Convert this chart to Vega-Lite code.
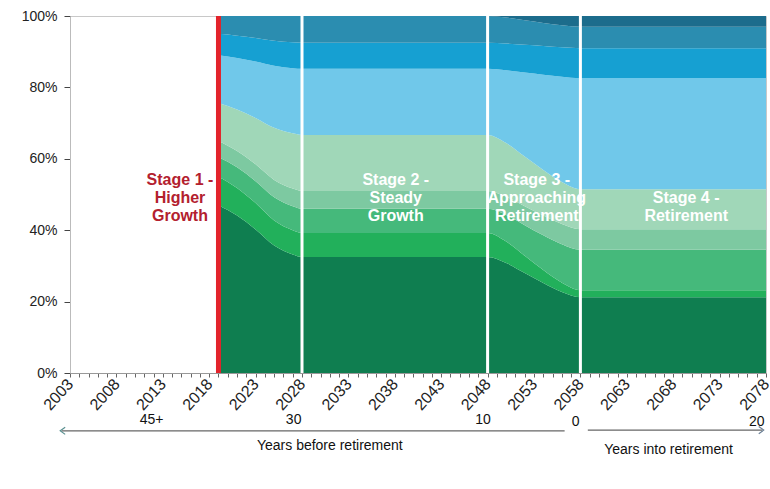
{
  "$schema": "https://vega.github.io/schema/vega-lite/v6.json",
  "autosize": {"type": "none"},
  "padding": {"left": 70, "top": 16, "right": 4, "bottom": 116},
  "width": 696,
  "height": 357,
  "config": {
    "font": "Liberation Sans",
    "view": {"stroke": "#c8c8c8", "strokeWidth": 1}
  },
  "datasets": {
    "mix": [
      {"year": 2019, "L1": 47, "L2": 8, "L3": 5.5, "L4": 4.5, "L5": 10.6, "L6": 13.4, "L7": 6, "L8": 5, "L9": 0},
      {"year": 2021, "L1": 44.1, "L2": 7.74, "L3": 5.76, "L4": 4.6, "L5": 11.62, "L6": 14.42, "L7": 6.26, "L8": 5.5, "L9": 0},
      {"year": 2023, "L1": 40.2, "L2": 7.39, "L3": 6.11, "L4": 4.74, "L5": 13.0, "L6": 15.8, "L7": 6.61, "L8": 6.15, "L9": 0},
      {"year": 2025, "L1": 35.7, "L2": 6.99, "L3": 6.51, "L4": 4.89, "L5": 14.58, "L6": 17.38, "L7": 7.01, "L8": 6.94, "L9": 0},
      {"year": 2027, "L1": 33.2, "L2": 6.77, "L3": 6.74, "L4": 4.98, "L5": 15.45, "L6": 18.25, "L7": 7.24, "L8": 7.37, "L9": 0},
      {"year": 2028, "L1": 32.5, "L2": 6.7, "L3": 6.8, "L4": 5, "L5": 15.7, "L6": 18.5, "L7": 7.3, "L8": 7.5, "L9": 0},
      {"year": 2048, "L1": 32.5, "L2": 6.7, "L3": 6.8, "L4": 5, "L5": 15.7, "L6": 18.5, "L7": 7.3, "L8": 7.5, "L9": 0},
      {"year": 2050, "L1": 30.8, "L2": 6.0, "L3": 7.48, "L4": 5.12, "L5": 15.02, "L6": 20.39, "L7": 7.47, "L8": 7.27, "L9": 0.45},
      {"year": 2052, "L1": 28.0, "L2": 4.82, "L3": 8.6, "L4": 5.32, "L5": 13.9, "L6": 23.54, "L7": 7.74, "L8": 6.88, "L9": 1.2},
      {"year": 2054, "L1": 25.2, "L2": 3.65, "L3": 9.73, "L4": 5.52, "L5": 12.78, "L6": 26.69, "L7": 8.02, "L8": 6.46, "L9": 1.95},
      {"year": 2056, "L1": 22.7, "L2": 2.61, "L3": 10.72, "L4": 5.7, "L5": 11.79, "L6": 29.46, "L7": 8.26, "L8": 6.15, "L9": 2.61},
      {"year": 2058, "L1": 21.2, "L2": 2, "L3": 11.3, "L4": 5.8, "L5": 11.2, "L6": 31.1, "L7": 8.4, "L8": 6, "L9": 3},
      {"year": 2078, "L1": 21.2, "L2": 2, "L3": 11.3, "L4": 5.8, "L5": 11.2, "L6": 31.1, "L7": 8.4, "L8": 6, "L9": 3}
    ],
    "stages": [
      {"label": "Stage 2 -\nSteady\nGrowth", "year": 2038.1, "pct": 56.3},
      {"label": "Stage 3 -\nApproaching\nRetirement", "year": 2053.3, "pct": 56.3},
      {"label": "Stage 4 -\nRetirement", "year": 2069.4, "pct": 51.3}
    ],
    "bottom": [
      {"label": "45+", "year": 2011.8, "pct": -13.2},
      {"label": "30", "year": 2027.1, "pct": -13.2},
      {"label": "10", "year": 2047.5, "pct": -13.2},
      {"label": "0", "year": 2057.5, "pct": -13.7},
      {"label": "20", "year": 2077.0, "pct": -13.7},
      {"label": "Years before retirement", "year": 2031.0, "pct": -20.4},
      {"label": "Years into retirement", "year": 2067.5, "pct": -21.6}
    ]
  },
  "layer": [
    {
      "data": {"name": "mix"},
      "transform": [
        {"fold": ["L1", "L2", "L3", "L4", "L5", "L6", "L7", "L8", "L9"], "as": ["layer", "share"]}
      ],
      "mark": {"type": "area", "interpolate": "monotone"},
      "encoding": {
        "x": {
          "field": "year", "type": "quantitative",
          "scale": {"domain": [2003, 2078], "nice": false, "zero": false},
          "axis": {
            "title": null,
            "values": [2003,2004,2005,2006,2007,2008,2009,2010,2011,2012,2013,2014,2015,2016,2017,2018,2019,2020,2021,2022,2023,2024,2025,2026,2027,2028,2029,2030,2031,2032,2033,2034,2035,2036,2037,2038,2039,2040,2041,2042,2043,2044,2045,2046,2047,2048,2049,2050,2051,2052,2053,2054,2055,2056,2057,2058,2059,2060,2061,2062,2063,2064,2065,2066,2067,2068,2069,2070,2071,2072,2073,2074,2075,2076,2077,2078],
            "tickCount": 200,
            "format": "d",
            "labelExpr": "(datum.value - 2003) % 5 == 0 ? datum.label : ''",
            "labelOverlap": false,
            "labelBound": false,
            "labelFlush": false,
            "labelAngle": -48,
            "labelAlign": "right",
            "labelBaseline": "middle",
            "labelFontSize": 16,
            "labelColor": "#222",
            "labelPadding": 4,
            "labelDx": -8,
            "tickSize": 4,
            "tickColor": "#666",
            "domainColor": "#999",
            "grid": false
          }
        },
        "y": {
          "field": "share", "type": "quantitative", "stack": "zero",
          "scale": {"domain": [0, 100], "nice": false},
          "axis": {
            "title": null,
            "values": [0, 20, 40, 60, 80, 100],
            "labelExpr": "datum.value + '%'",
            "labelFontSize": 14,
            "labelColor": "#222",
            "labelPadding": 7,
            "tickSize": 6,
            "tickColor": "#444",
            "domainColor": "#bbb",
            "grid": false
          }
        },
        "color": {
          "field": "layer", "type": "nominal",
          "scale": {
            "domain": ["L1", "L2", "L3", "L4", "L5", "L6", "L7", "L8", "L9"],
            "range": ["#0f7e50", "#22b05b", "#45b97b", "#7dc9a1", "#a0d7b8", "#70c8ea", "#16a0d2", "#2b8db0", "#1c6c8c"]
          },
          "legend": null
        },
        "order": {"field": "layer", "sort": "ascending"}
      }
    },
    {
      "mark": {"type": "rule", "color": "#333", "strokeWidth": 1.5},
      "encoding": {"y": {"datum": 100}}
    },
    {
      "data": {"values": [{"year": 2028}, {"year": 2048}, {"year": 2058}]},
      "mark": {"type": "rule", "color": "#ffffff", "strokeWidth": 3},
      "encoding": {"x": {"field": "year", "type": "quantitative"}}
    },
    {
      "data": {"values": [{"year": 2019}]},
      "mark": {"type": "rule", "color": "#e3232b", "strokeWidth": 5},
      "encoding": {"x": {"field": "year", "type": "quantitative"}}
    },
    {
      "data": {"values": [{"label": "Stage 1 -\nHigher\nGrowth", "year": 2014.85, "pct": 56.3}]},
      "mark": {"type": "text", "fontSize": 16, "fontWeight": "bold", "baseline": "top", "align": "center", "lineBreak": "\n", "lineHeight": 18, "color": "#b3202e"},
      "encoding": {
        "x": {"field": "year", "type": "quantitative"},
        "y": {"field": "pct", "type": "quantitative"},
        "text": {"field": "label"}
      }
    },
    {
      "data": {"name": "stages"},
      "mark": {"type": "text", "fontSize": 16, "fontWeight": "bold", "baseline": "top", "align": "center", "lineBreak": "\n", "lineHeight": 18, "color": "#ffffff"},
      "encoding": {
        "x": {"field": "year", "type": "quantitative"},
        "y": {"field": "pct", "type": "quantitative"},
        "text": {"field": "label"}
      }
    },
    {
      "data": {"name": "bottom"},
      "mark": {"type": "text", "fontSize": 14, "baseline": "middle", "align": "center", "color": "#111"},
      "encoding": {
        "x": {"field": "year", "type": "quantitative"},
        "y": {"field": "pct", "type": "quantitative"},
        "text": {"field": "label"}
      }
    },
    {
      "data": {"values": [{"from": 2002.1, "to": 2056.3, "pct": -16.2}, {"from": 2058.8, "to": 2077.6, "pct": -16.0}]},
      "mark": {"type": "rule", "color": "#666", "strokeWidth": 1.2},
      "encoding": {
        "x": {"field": "from", "type": "quantitative"},
        "x2": {"field": "to"},
        "y": {"field": "pct", "type": "quantitative"}
      }
    },
    {
      "data": {"values": [{"head": 2002.1, "pct": -16.2}]},
      "mark": {"type": "point", "filled": false, "size": 50, "strokeWidth": 1.2, "opacity": 1, "shape": "M1,-1L-0.4,0L1,1", "color": "#5a9090"},
      "encoding": {
        "x": {"field": "head", "type": "quantitative"},
        "y": {"field": "pct", "type": "quantitative"}
      }
    },
    {
      "data": {"values": [{"head": 2077.6, "pct": -16.0}]},
      "mark": {"type": "point", "filled": false, "size": 50, "strokeWidth": 1.2, "opacity": 1, "shape": "M-1,-1L0.4,0L-1,1", "color": "#6a7f95"},
      "encoding": {
        "x": {"field": "head", "type": "quantitative"},
        "y": {"field": "pct", "type": "quantitative"}
      }
    }
  ]
}
